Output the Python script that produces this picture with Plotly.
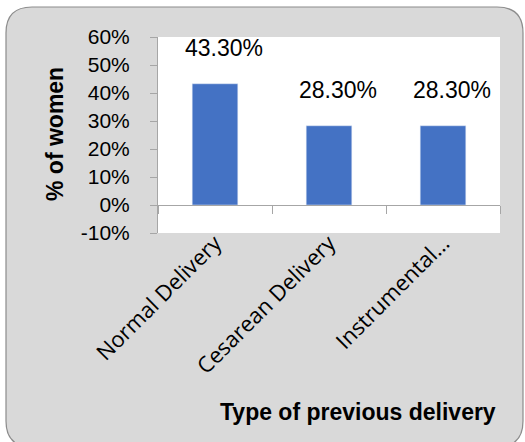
import plotly.graph_objects as go

categories = ["Normal Delivery", "Cesarean Delivery", "Instrumental…"]
values = [43.3, 28.3, 28.3]
value_labels = ["43.30%", "28.30%", "28.30%"]
y_ticks = [-10, 0, 10, 20, 30, 40, 50, 60]
y_tick_labels = ["-10%", "0%", "10%", "20%", "30%", "40%", "50%", "60%"]

W, H = 525, 442
L, R, T, B = 158, 500, 37, 233  # plot area in pixels


def px_x(px):
    return (px - L) / (R - L)


def px_y(py):
    return (B - py) / (B - T)


# rounded background rectangle (pixel coords)
x0, x1, y0, y1, rad = 6, 523, 7, 447, 26
path = (
    f"M {px_x(x0 + rad)},{px_y(y0)} "
    f"L {px_x(x1 - rad)},{px_y(y0)} "
    f"Q {px_x(x1)},{px_y(y0)} {px_x(x1)},{px_y(y0 + rad)} "
    f"L {px_x(x1)},{px_y(y1 - rad)} "
    f"Q {px_x(x1)},{px_y(y1)} {px_x(x1 - rad)},{px_y(y1)} "
    f"L {px_x(x0 + rad)},{px_y(y1)} "
    f"Q {px_x(x0)},{px_y(y1)} {px_x(x0)},{px_y(y1 - rad)} "
    f"L {px_x(x0)},{px_y(y0 + rad)} "
    f"Q {px_x(x0)},{px_y(y0)} {px_x(x0 + rad)},{px_y(y0)} Z"
)

fig = go.Figure()
fig.add_trace(go.Bar(
    x=categories, y=values, marker_color="#4472C4", width=0.4,
    hoverinfo="skip", showlegend=False,
))
# invisible trace for the zero-line axis with boundary ticks
fig.add_trace(go.Scatter(
    x=categories, y=values, xaxis="x2", mode="markers",
    marker=dict(opacity=0), hoverinfo="skip", showlegend=False,
))

for c, v, t in zip(categories, values, value_labels):
    fig.add_annotation(
        x=c, y=v, text=t, showarrow=False, yanchor="bottom",
        yshift=21, xshift=9,
        font=dict(family="Liberation Sans", size=23, color="#000000"),
    )

fig.add_annotation(
    xref="paper", yref="paper", x=px_x(55), y=px_y(134),
    xanchor="center", yanchor="middle",
    text="<b>% of women</b>", textangle=-90, showarrow=False,
    font=dict(family="Liberation Sans", size=23, color="#000000"),
)
fig.add_annotation(
    xref="paper", yref="paper", x=px_x(498), y=px_y(412),
    xanchor="right", yanchor="middle",
    text="<b>Type of previous delivery</b>", showarrow=False,
    font=dict(family="Liberation Sans", size=23, color="#000000"),
)

fig.update_layout(
    width=W, height=H,
    margin=dict(l=L, r=W - R, t=T, b=H - B, pad=0),
    paper_bgcolor="white", plot_bgcolor="white",
    shapes=[
        dict(type="path", path=path, xref="paper", yref="paper",
             fillcolor="#d9d9d9", line=dict(color="#8c8c8c", width=1.2),
             layer="below"),
        dict(type="rect", xref="paper", yref="paper", x0=0, x1=1, y0=0, y1=1,
             fillcolor="white", line=dict(width=0), layer="below"),
    ],
    xaxis=dict(
        type="category", categoryarray=categories, categoryorder="array",
        showline=False, ticks="", tickangle=-45, ticklabelstandoff=-8,
        tickfont=dict(family="Open Sans", size=22, color="#000000"),
        showgrid=False, zeroline=False,
    ),
    xaxis2=dict(
        type="category", categoryarray=categories, categoryorder="array",
        overlaying="x", matches="x", anchor="free", position=px_y(205),
        side="bottom", showline=True, linecolor="#a6a6a6", linewidth=1,
        ticks="outside", tickson="boundaries", ticklen=8, tickcolor="#a6a6a6",
        showticklabels=False, showgrid=False, zeroline=False,
    ),
    yaxis=dict(
        range=[-10, 60], tickvals=y_ticks, ticktext=y_tick_labels,
        showline=True, linecolor="#a6a6a6", linewidth=1,
        ticks="outside", ticklen=7, tickcolor="#a6a6a6",
        ticklabelstandoff=16,
        tickfont=dict(family="Liberation Sans", size=21, color="#000000"),
        showgrid=False, zeroline=False,
    ),
)

fig.write_html(
    "out.html",
    config={"displayModeBar": False},
    post_script="document.body.style.margin='0';",
)
